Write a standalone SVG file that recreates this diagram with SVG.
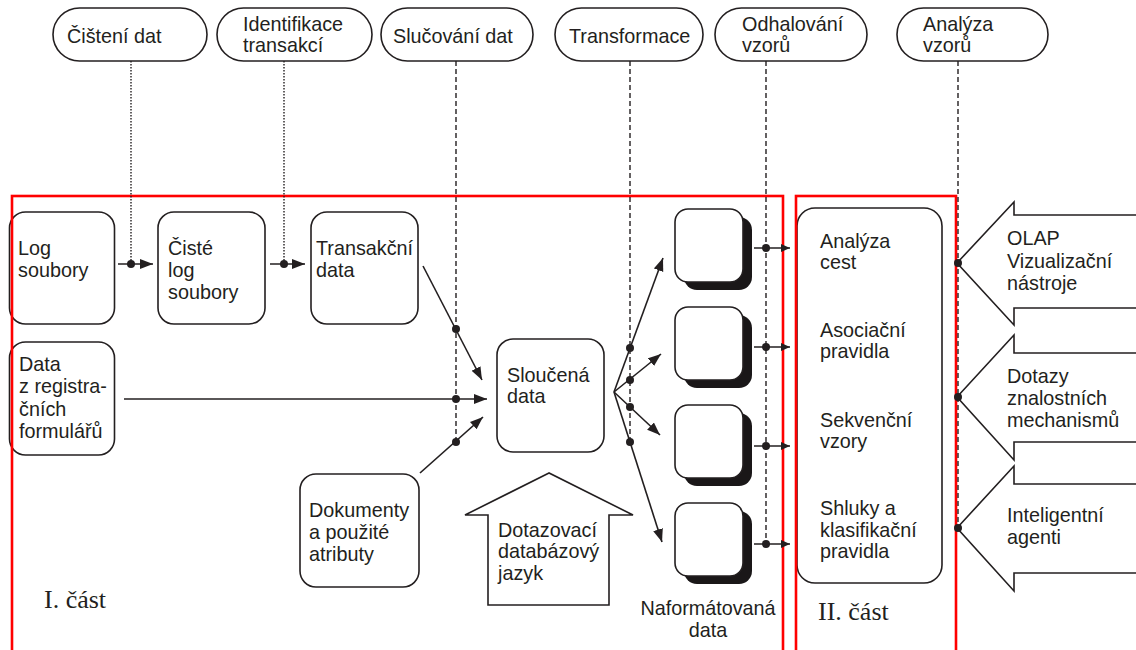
<svg xmlns="http://www.w3.org/2000/svg" width="1136" height="650" viewBox="0 0 1136 650">
<style>
text{font-family:"Liberation Sans",Arial,sans-serif;font-size:19.8px;fill:#231f20}
.serif{font-family:"Liberation Serif","Times New Roman",serif;font-size:26px}
.box{fill:#fff;stroke:#231f20;stroke-width:1.6}
.pill{fill:#fff;stroke:#231f20;stroke-width:1.6}
.shadow{fill:#1a1718;stroke:none}
.ln{stroke:#231f20;stroke-width:1.6;fill:none}
.dot{stroke:#231f20;stroke-width:1.4;stroke-dasharray:1.5 1.5;fill:none}
.dash{stroke:#231f20;stroke-width:1.4;stroke-dasharray:5 3;fill:none}
.red{fill:none;stroke:#ff0000;stroke-width:2.6}
.blk{fill:#231f20}
.barrow{fill:#fff;stroke:#231f20;stroke-width:1.6}
</style>
<defs>
<marker id="ah" markerUnits="userSpaceOnUse" markerWidth="14" markerHeight="11" refX="13" refY="5" orient="auto"><path d="M0,0 L13,5 L0,10 z" fill="#231f20"/></marker>
<marker id="ahs" markerUnits="userSpaceOnUse" markerWidth="10" markerHeight="9" refX="9" refY="4" orient="auto"><path d="M0,0 L9,4 L0,8 z" fill="#231f20"/></marker>
</defs>

<!-- top pills -->
<g id="pill-cisteni"><rect class="pill" x="53" y="8" width="154" height="53" rx="26.5"/><text x="67" y="43">Čištení dat</text></g>
<g id="pill-identifikace"><rect class="pill" x="217" y="8" width="155" height="53" rx="26.5"/><text x="243" y="31">Identifikace</text><text x="243" y="52">transakcí</text></g>
<g id="pill-slucovani"><rect class="pill" x="381" y="8" width="152" height="53" rx="26.5"/><text x="393" y="43">Slučování dat</text></g>
<g id="pill-transformace"><rect class="pill" x="555" y="8" width="148" height="53" rx="26.5"/><text x="569" y="43">Transformace</text></g>
<g id="pill-odhalovani"><rect class="pill" x="715" y="8" width="152" height="53" rx="26.5"/><text x="742" y="31">Odhalování</text><text x="742" y="52">vzorů</text></g>
<g id="pill-analyza"><rect class="pill" x="897" y="8" width="151" height="53" rx="26.5"/><text x="923" y="31">Analýza</text><text x="923" y="52">vzorů</text></g>

<!-- Part I nodes -->
<g id="log-soubory"><rect class="box" x="9.5" y="212" width="105" height="112" rx="16"/><text x="18" y="255">Log</text><text x="18" y="277">soubory</text></g>
<g id="ciste-log"><rect class="box" x="158" y="212" width="107" height="112" rx="16"/><text x="168" y="255">Čisté</text><text x="168" y="277">log</text><text x="168" y="299">soubory</text></g>
<g id="transakcni-data"><rect class="box" x="311" y="212" width="107" height="112" rx="16"/><text x="316" y="255">Transakční</text><text x="316" y="277">data</text></g>
<g id="data-registr"><rect class="box" x="9.5" y="342" width="105" height="113" rx="16"/><text x="19" y="371">Data</text><text x="19" y="393">z registra-</text><text x="19" y="416">čních</text><text x="19" y="438">formulářů</text></g>
<g id="dokumenty"><rect class="box" x="300" y="474" width="119" height="113" rx="16"/><text x="309" y="517">Dokumenty</text><text x="309" y="539">a použité</text><text x="309" y="561">atributy</text></g>
<g id="sloucena-data"><rect class="box" x="497" y="339" width="107" height="113" rx="16"/><text x="507" y="382">Sloučená</text><text x="507" y="403">data</text></g>
<g id="dotazovaci"><polygon class="barrow" points="549,473 465,515 488,515 488,605 609,605 609,515 633,515"/><text x="498" y="537">Dotazovací</text><text x="498" y="558">databázový</text><text x="498" y="580">jazyk</text></g>

<g id="naformatovana">
<rect class="shadow" x="684" y="217" width="68" height="73" rx="13"/><rect class="box" x="675" y="209" width="68" height="73" rx="13"/>
<rect class="shadow" x="684" y="315" width="68" height="73" rx="13"/><rect class="box" x="675" y="307" width="68" height="73" rx="13"/>
<rect class="shadow" x="684" y="413" width="68" height="73" rx="13"/><rect class="box" x="675" y="405" width="68" height="73" rx="13"/>
<rect class="shadow" x="684" y="511" width="68" height="73" rx="13"/><rect class="box" x="675" y="503" width="68" height="73" rx="13"/>
<text x="708" y="615" text-anchor="middle">Naformátovaná</text><text x="708" y="637" text-anchor="middle">data</text>
</g>

<!-- Part II -->
<g id="vzory-box"><rect class="box" x="797" y="208" width="145" height="375" rx="18"/>
<text x="820" y="248">Analýza</text><text x="820" y="269">cest</text>
<text x="820" y="337">Asociační</text><text x="820" y="358">pravidla</text>
<text x="820" y="427">Sekvenční</text><text x="820" y="448">vzory</text>
<text x="820" y="515">Shluky a</text><text x="820" y="537">klasifikační</text><text x="820" y="558">pravidla</text>
</g>
<g id="olap"><polygon class="barrow" points="957,263 1014,202 1014,215 1140,215 1140,308 1014,308 1014,325"/><text x="1007" y="245">OLAP</text><text x="1007" y="268">Vizualizační</text><text x="1007" y="290">nástroje</text></g>
<g id="dotazy"><polygon class="barrow" points="957,397 1014,335 1014,353 1140,353 1140,442 1014,442 1014,460"/><text x="1007" y="383">Dotazy</text><text x="1007" y="405">znalostních</text><text x="1007" y="427">mechanismů</text></g>
<g id="agenti"><polygon class="barrow" points="957,528 1014,466 1014,484 1140,484 1140,573 1014,573 1014,591"/><text x="1007" y="522">Inteligentní</text><text x="1007" y="544">agenti</text></g>

<!-- part frames -->
<g id="part1"><rect class="red" x="12" y="196" width="771" height="470"/><text class="serif" x="44" y="608">I. část</text></g>
<g id="part2"><rect class="red" x="796" y="196" width="160" height="470"/><text class="serif" x="818" y="620">II. část</text></g>

<!-- connectors -->
<g id="connectors">
<line class="dot" x1="131" y1="61" x2="131" y2="264"/>
<line class="dot" x1="284" y1="61" x2="284" y2="264"/>
<line class="dash" x1="456" y1="61" x2="456" y2="442"/>
<line class="dash" x1="630" y1="61" x2="630" y2="442"/>
<line class="dash" x1="766" y1="61" x2="766" y2="544"/>
<line class="dash" x1="958" y1="61" x2="958" y2="528"/>

<line class="ln" x1="118" y1="264" x2="153" y2="264" marker-end="url(#ah)"/>
<line class="ln" x1="270" y1="264" x2="305" y2="264" marker-end="url(#ah)"/>
<line class="ln" x1="423" y1="266" x2="482" y2="380" marker-end="url(#ah)"/>
<line class="ln" x1="124" y1="399" x2="487" y2="399" marker-end="url(#ah)"/>
<line class="ln" x1="420" y1="473" x2="483" y2="417" marker-end="url(#ah)"/>
<line class="ln" x1="614" y1="392" x2="663" y2="258" marker-end="url(#ah)"/>
<line class="ln" x1="614" y1="392" x2="661" y2="354" marker-end="url(#ah)"/>
<line class="ln" x1="614" y1="392" x2="660" y2="435" marker-end="url(#ah)"/>
<line class="ln" x1="614" y1="392" x2="662" y2="542" marker-end="url(#ah)"/>
<line class="ln" x1="754" y1="248" x2="790" y2="248" marker-end="url(#ahs)"/>
<line class="ln" x1="754" y1="347" x2="790" y2="347" marker-end="url(#ahs)"/>
<line class="ln" x1="754" y1="446" x2="790" y2="446" marker-end="url(#ahs)"/>
<line class="ln" x1="754" y1="544" x2="790" y2="544" marker-end="url(#ahs)"/>

<circle class="blk" cx="131" cy="264" r="4"/>
<circle class="blk" cx="284" cy="264" r="4"/>
<circle class="blk" cx="456" cy="329" r="4"/>
<circle class="blk" cx="456" cy="399" r="4"/>
<circle class="blk" cx="456" cy="442" r="4"/>
<circle class="blk" cx="630" cy="348" r="4"/>
<circle class="blk" cx="630" cy="380" r="4"/>
<circle class="blk" cx="630" cy="407" r="4"/>
<circle class="blk" cx="630" cy="442" r="4"/>
<circle class="blk" cx="766" cy="248" r="4"/>
<circle class="blk" cx="766" cy="347" r="4"/>
<circle class="blk" cx="766" cy="446" r="4"/>
<circle class="blk" cx="766" cy="544" r="4"/>
<circle class="blk" cx="958" cy="263" r="4"/>
<circle class="blk" cx="958" cy="397" r="4"/>
<circle class="blk" cx="958" cy="528" r="4"/>
</g>
</svg>
